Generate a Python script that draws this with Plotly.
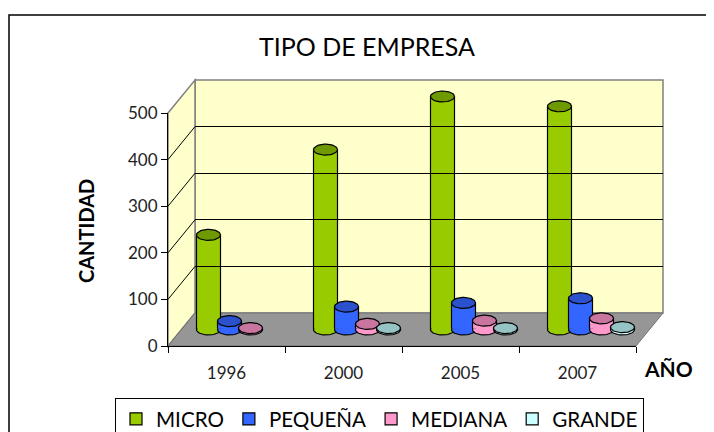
import numpy as np
import plotly.graph_objects as go

# ---------------- data ----------------
years = ["1996", "2000", "2005", "2007"]
micro = [203, 386, 500, 479]
pequena = [18, 49, 57, 67]
mediana = [3, 12, 19, 24]
grande = [None, 3, 3, 5]
series_names = ["MICRO", "PEQUEÑA", "MEDIANA", "GRANDE"]
y_ticks = [0, 100, 200, 300, 400, 500]

series_values = [micro, pequena, mediana, grande]
body_colors = ["#99CC00", "#3366FF", "#FF99CC", "#CCFFFF"]
top_colors = ["#6E9A00", "#2B52CC", "#C8759F", "#96C4C4"]

# ---------------- geometry (pixels of the window) ----------------
W, H = 714, 432
OFF = 8  # page body margin
def px(x):
    return (x - OFF) / W
def py(y):
    return 1 - (y - OFF) / H

FX0, FX1 = 168, 636        # front floor edge
FY0 = 346                  # front floor y (value 0)
TOPF = 113                 # front y for value 500
DX, DY = 27, -33           # depth offset
UNIT = (FY0 - TOPF) / 500  # px per unit
BX0, BX1 = FX0 + DX, FX1 + DX
BY0 = FY0 + DY
BTOP = TOPF + DY

# bars at mid depth
MX0, MX1 = FX0 + DX / 2, FX1 + DX / 2
MY0 = FY0 + DY / 2
CAT_PX = (MX1 - MX0) / len(years)
YLOW = 20
BAR_TOP_PX = 60
yb_range = [-YLOW, (MY0 - BAR_TOP_PX) / UNIT]

slot = 21 / CAT_PX
bw = 24 / CAT_PX
rx = 12 / CAT_PX
ry = 5.5 / UNIT
idx = np.arange(len(years))

fig = go.Figure()

# helper traces for axes
fig.add_trace(go.Scatter(x=years, y=micro, mode="none", xaxis="x2", yaxis="y2",
                         showlegend=False, hoverinfo="skip"))
fig.add_trace(go.Scatter(x=years, y=micro, mode="none", xaxis="x3", yaxis="y3",
                         showlegend=False, hoverinfo="skip"))

nser = len(series_names)
for k, (name, vals) in enumerate(zip(series_names, series_values)):
    off = (k - (nser - 1) / 2) * slot
    fig.add_trace(go.Bar(
        x=idx, y=vals, name=name, width=bw, offset=off - bw / 2,
        marker=dict(color=body_colors[k], line=dict(color="black", width=1.2)),
        xaxis="x", yaxis="y", hoverinfo="skip"))

for k, (name, vals) in enumerate(zip(series_names, series_values)):
    off = (k - (nser - 1) / 2) * slot
    bxs, bys, txs, tys = [], [], [], []
    tb = np.linspace(np.pi - 0.25, 2 * np.pi + 0.25, 30)
    tt = np.linspace(0, 2 * np.pi, 50)
    for i, v in enumerate(vals):
        if v is None:
            continue
        cx = i + off
        bxs += list(cx + rx * np.cos(tb)) + [None]
        bys += list(ry * np.sin(tb)) + [None]
        txs += list(cx + rx * np.cos(tt)) + [None]
        tys += list(v + ry * np.sin(tt)) + [None]
    fig.add_trace(go.Scatter(x=bxs, y=bys, mode="lines", fill="toself",
                             fillcolor=body_colors[k],
                             line=dict(color="black", width=1.2),
                             xaxis="x", yaxis="y", showlegend=False, hoverinfo="skip"))
    fig.add_trace(go.Scatter(x=txs, y=tys, mode="lines", fill="toself",
                             fillcolor=top_colors[k],
                             line=dict(color="black", width=1.2),
                             xaxis="x", yaxis="y", showlegend=False, hoverinfo="skip"))

shapes = []
# outer border
shapes.append(dict(type="rect", xref="paper", yref="paper",
                   x0=px(9), x1=1.2, y0=py(15), y1=-0.2,
                   line=dict(color="black", width=1.5), layer="below"))
# back wall
shapes.append(dict(type="rect", xref="paper", yref="paper",
                   x0=px(BX0), x1=px(BX1), y0=py(BY0), y1=py(BTOP),
                   fillcolor="#FFFFCC", line=dict(color="#808080", width=1.5),
                   layer="below"))
# left wall
shapes.append(dict(type="path", xref="paper", yref="paper",
                   path=f"M {px(FX0)} {py(TOPF)} L {px(BX0)} {py(BTOP)} L {px(BX0)} {py(BY0)} L {px(FX0)} {py(FY0)} Z",
                   fillcolor="#FFFFCC", line=dict(color="#808080", width=1.5),
                   layer="below"))
# floor
shapes.append(dict(type="path", xref="paper", yref="paper",
                   path=f"M {px(FX0)} {py(FY0)} L {px(FX1)} {py(FY0)} L {px(BX1)} {py(BY0)} L {px(BX0)} {py(BY0)} Z",
                   fillcolor="#969696", line=dict(color="#707070", width=1),
                   layer="below"))
# left wall grid diagonals
for t in y_ticks[1:-1]:
    shapes.append(dict(type="line", xref="paper", yref="paper",
                       x0=px(FX0), y0=py(FY0 - t * UNIT),
                       x1=px(BX0), y1=py(BY0 - t * UNIT),
                       line=dict(color="black", width=1), layer="below"))

annotations = [
    dict(text="TIPO DE EMPRESA", x=px(367), y=py(46), xref="paper", yref="paper",
         xanchor="center", yanchor="middle",
         showarrow=False, font=dict(family="Lato", size=25, color="black")),
    dict(text="CANTIDAD", x=px(86), y=py(231), xref="paper", yref="paper",
         xanchor="center", yanchor="middle",
         showarrow=False, textangle=-90,
         font=dict(family="Lato", size=20, color="black", weight="bold")),
    dict(text="AÑO", x=px(668), y=py(368), xref="paper", yref="paper",
         xanchor="center", yanchor="middle",
         showarrow=False, font=dict(family="Lato", size=21, color="black", weight="bold")),
]

fig.update_layout(
    template="none",
    width=W, height=H, margin=dict(l=0, r=0, t=0, b=0, pad=0, autoexpand=False),
    paper_bgcolor="white", plot_bgcolor="rgba(0,0,0,0)",
    barmode="overlay",
    font=dict(family="Lato", color="black"),
    showlegend=True,
    legend=dict(orientation="h", x=px(115), y=py(398), xanchor="left", yanchor="top",
                bgcolor="white", bordercolor="black", borderwidth=1,
                font=dict(family="Lato", size=20.6, color="black"),
                traceorder="normal"),
    shapes=shapes, annotations=annotations,
    # bars (mid depth)
    xaxis=dict(domain=[px(MX0), px(MX1)], range=[-0.5, len(years) - 0.5],
               visible=False, fixedrange=True, automargin=False),
    yaxis=dict(domain=[py(MY0 + YLOW * UNIT), py(BAR_TOP_PX)], range=yb_range,
               visible=False, fixedrange=True, automargin=False),
    # front axes
    xaxis2=dict(domain=[px(FX0), px(FX1)], type="category", categoryarray=years,
                range=[-0.5, len(years) - 0.5], anchor="y2", automargin=False,
                showline=True, linecolor="black", linewidth=1.2,
                ticks="outside", tickson="boundaries", ticklen=6, tickcolor="black",
                showgrid=False, zeroline=False, ticklabelstandoff=11,
                tickfont=dict(family="Lato", size=17, color="#222")),
    yaxis2=dict(domain=[py(FY0), py(TOPF)], range=[0, 500], anchor="x2",
                automargin=False,
                tickvals=y_ticks, showline=True, linecolor="black", linewidth=1.2,
                ticks="outside", ticklen=6, tickcolor="black",
                showgrid=False, zeroline=False,
                tickfont=dict(family="Lato", size=17, color="#222")),
    # back wall grid
    xaxis3=dict(domain=[px(BX0), px(BX1)], type="category", categoryarray=years,
                anchor="y3", visible=False, automargin=False),
    yaxis3=dict(domain=[py(BY0), py(BTOP)], range=[0, 500], anchor="x3",
                automargin=False,
                tickvals=y_ticks[1:-1], showgrid=True, gridcolor="black", gridwidth=1,
                showticklabels=False, ticks="", showline=False, zeroline=False),
)

fig.write_html("out.html")
